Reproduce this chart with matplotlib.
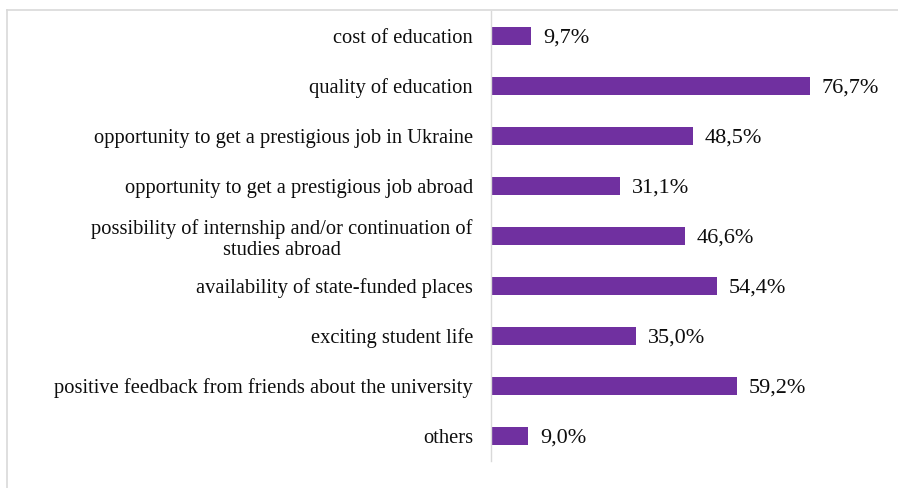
import matplotlib.pyplot as plt
from matplotlib.lines import Line2D

plt.rcParams['font.family'] = ['Liberation Serif', 'DejaVu Serif']

categories = [
    "cost of education",
    "quality of education",
    "opportunity to get a prestigious job in Ukraine",
    "opportunity to get a prestigious job abroad",
    "possibility of internship and/or continuation of\nstudies abroad",
    "availability of state-funded places",
    "exciting student life",
    "positive feedback from friends about the university",
    "others",
]
values = [9.7, 76.7, 48.5, 31.1, 46.6, 54.4, 35.0, 59.2, 9.0]
value_labels = ["9,7%", "76,7%", "48,5%", "31,1%", "46,6%", "54,4%", "35,0%", "59,2%", "9,0%"]

W, H = 898, 488
fig = plt.figure(figsize=(W / 100, H / 100), dpi=100)

# axes placed in pixel terms
left, right = 491, 865
top, bottom = 11, 461
ax = fig.add_axes([left / W, 1 - bottom / H, (right - left) / W, (bottom - top) / H])

pos = list(range(len(categories)))
ax.barh(pos, values, height=0.36, color='#7030a0')
ax.set_ylim(len(categories) - 0.5, -0.5)
ax.set_xlim(0, 90)

for p, v, lab in zip(pos, values, value_labels):
    ax.annotate(lab, xy=(v, p), xytext=(8.5, -1.2), textcoords='offset points',
                va='center', ha='left', fontsize=16, color='#0d0d0d')

ax.set_yticks(pos)
ax.set_yticklabels(categories, fontsize=14.8, color='#0d0d0d', linespacing=1.15)
for t in ax.get_yticklabels():
    t.set_multialignment('center')
ax.tick_params(axis='y', length=0, pad=13)
ax.set_xticks([])
for s in ['top', 'right', 'bottom']:
    ax.spines[s].set_visible(False)
ax.spines['left'].set_color('#d9d9d9')
ax.spines['left'].set_linewidth(1)

# outer frame lines (chart area border)
fig.add_artist(Line2D([7 / W, 7 / W], [0, 1 - 10 / H], transform=fig.transFigure,
                      color='#d9d9d9', lw=1.2))
fig.add_artist(Line2D([7 / W, 1], [1 - 10 / H, 1 - 10 / H], transform=fig.transFigure,
                      color='#d9d9d9', lw=1.2))

fig.savefig('out.png', dpi=100)
